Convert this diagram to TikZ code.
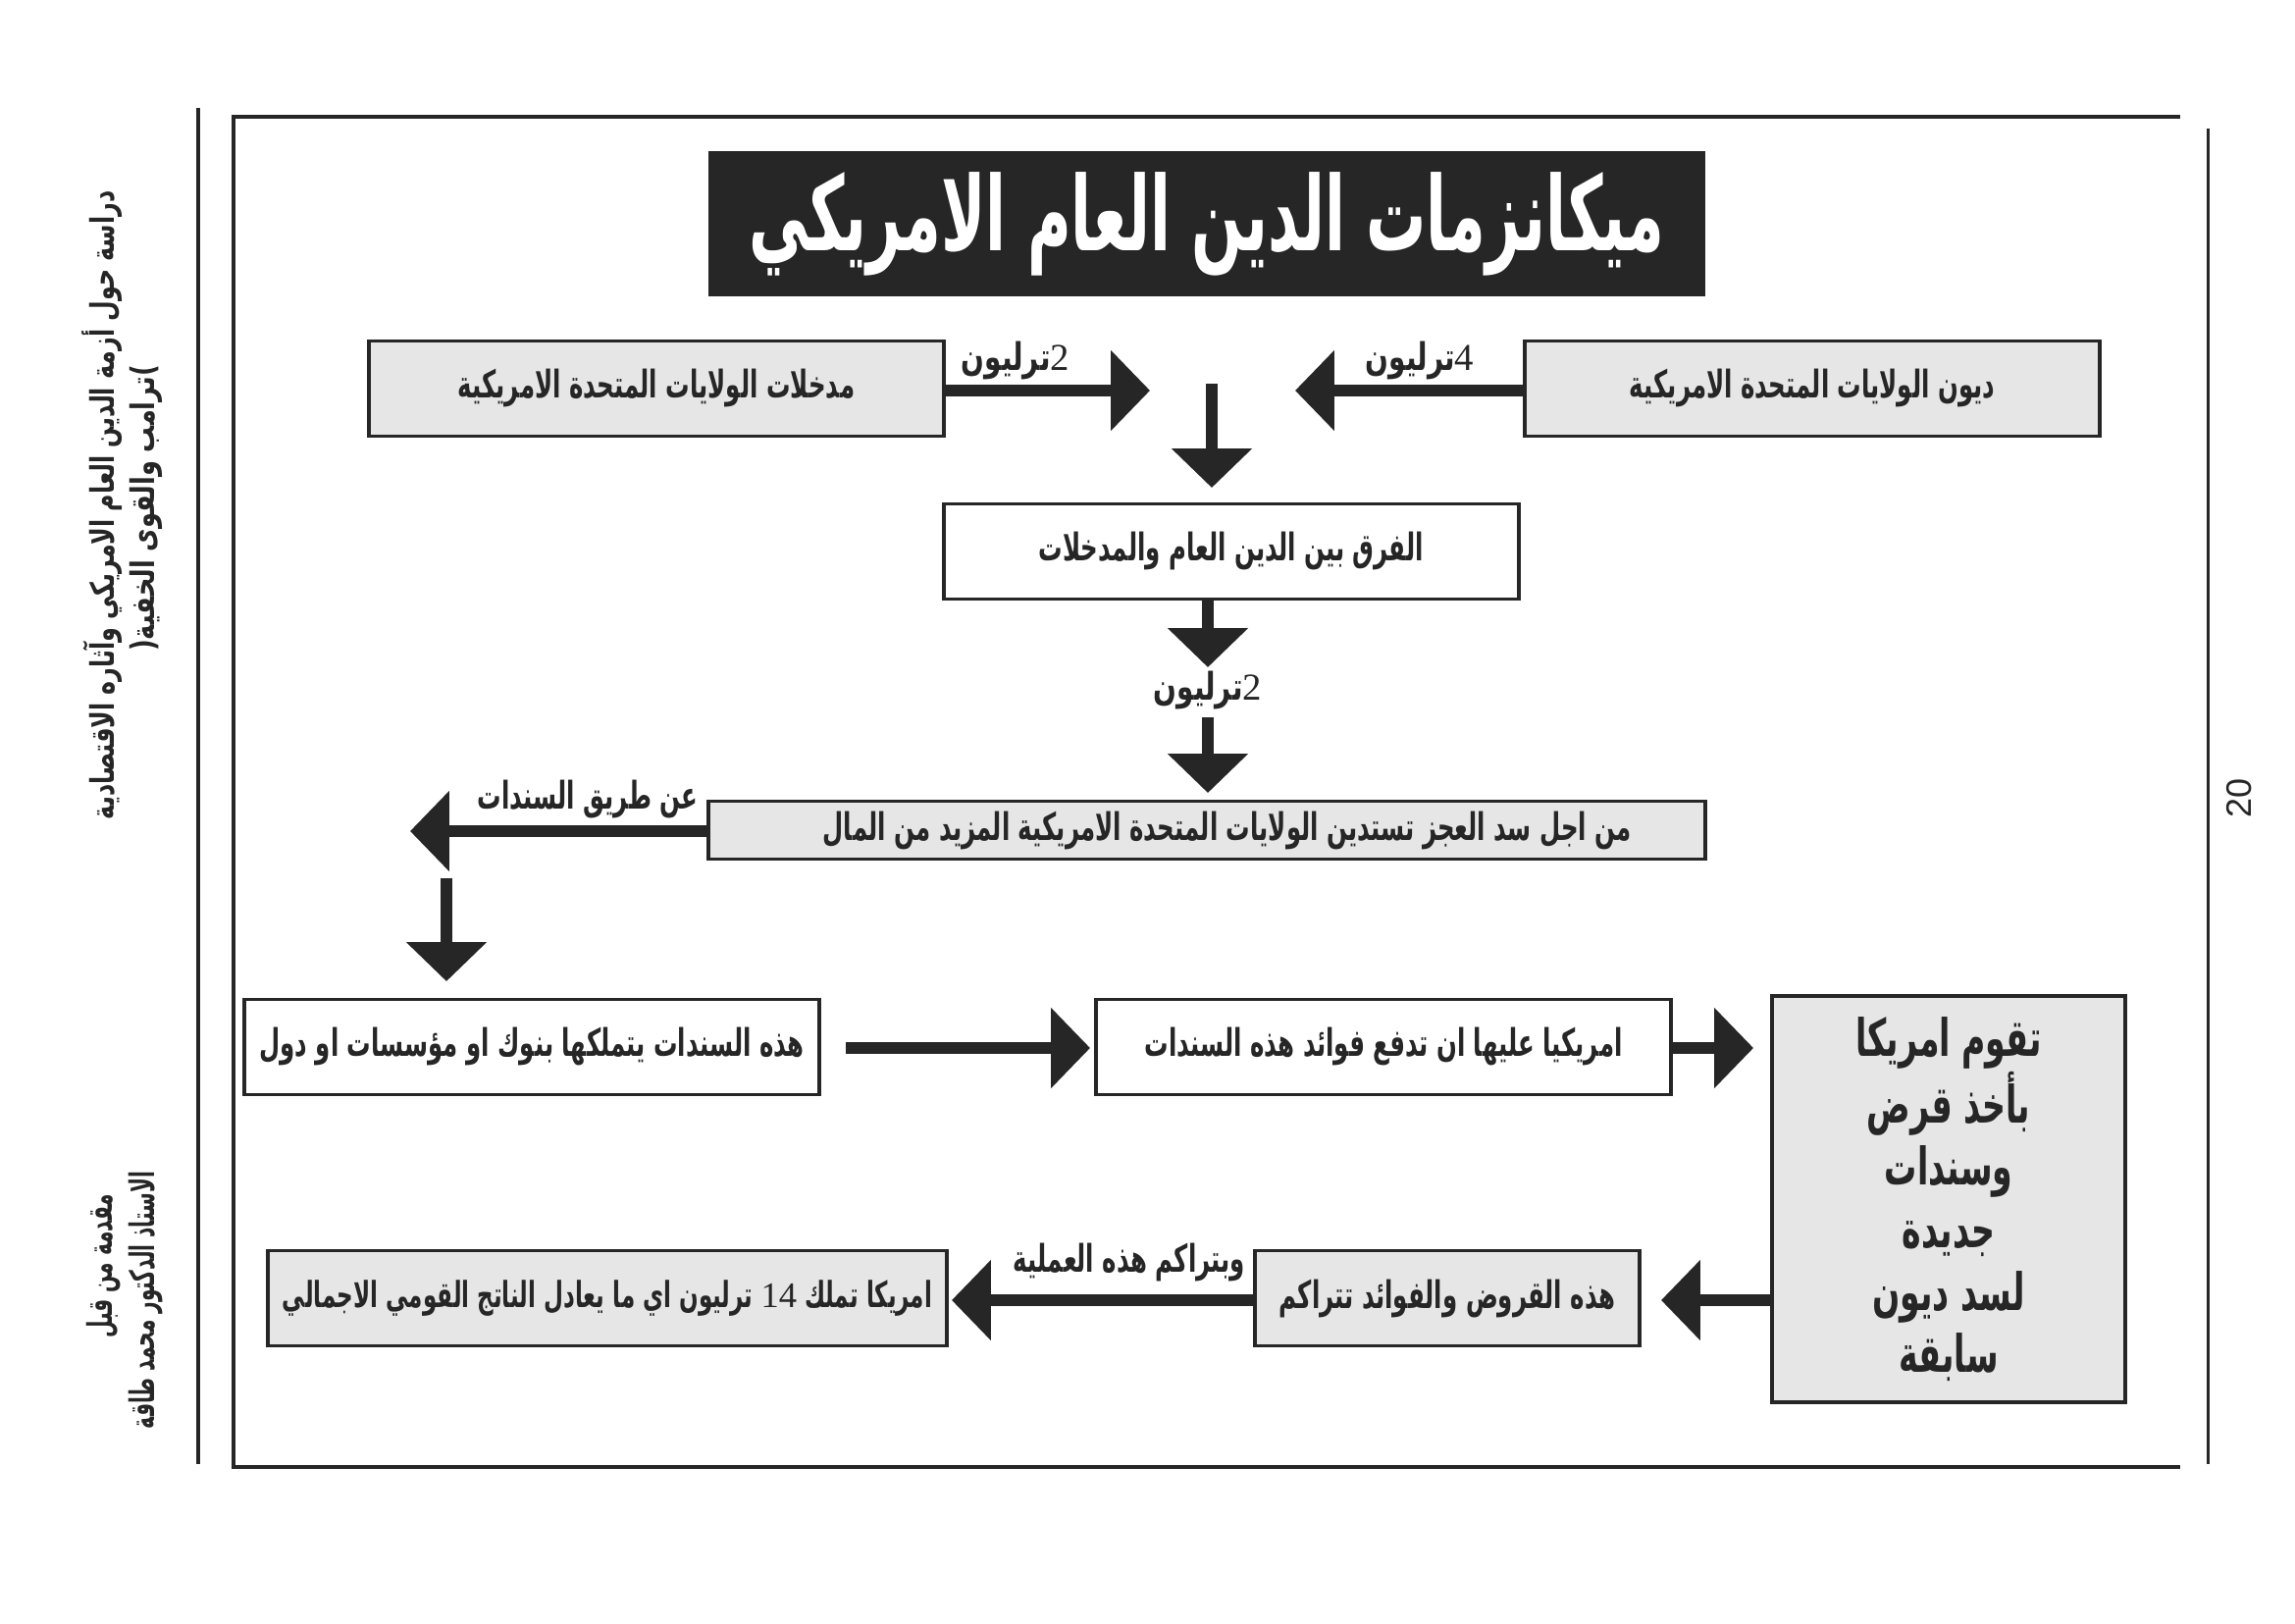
\documentclass[tikz,border=0pt]{standalone}
\usepackage{fontspec}
\usetikzlibrary{arrows.meta}
\TeXXeTstate=1
\newfontfamily\arb[Script=Arabic,FakeStretch=0.63]{DejaVu Sans}
\newfontfamily\arbw[Script=Arabic,FakeStretch=0.72]{DejaVu Sans}
\newfontfamily\arbt[Script=Arabic,FakeStretch=0.58]{DejaVu Sans}
\newfontfamily\arbside[Script=Arabic,FakeStretch=0.77]{DejaVu Sans}
\newfontfamily\arbsidea[Script=Arabic,FakeStretch=0.715]{DejaVu Sans}
\newfontfamily\arbsb[Script=Arabic,FakeStretch=0.58]{DejaVu Sans}
\newfontfamily\numfont{Liberation Serif}
\newfontfamily\pagefont{Liberation Sans}
\newcommand\AR[1]{\beginR#1\endR}
\definecolor{dk}{RGB}{38,38,38}
\definecolor{gbg}{RGB}{230,230,230}
\tikzset{
 boxbase/.style={draw=dk, line width=1.4pt, inner sep=0pt, align=center, text=dk, font=\arb\bfseries\fontsize{14}{17}\selectfont},
 graybox/.style={boxbase, fill=gbg},
 whitebox/.style={boxbase, fill=white},
 bigarrow/.style={draw=dk, line width=4.3pt, -{Triangle[length=14.4pt,width=28.8pt]}},
 lbl/.style={inner sep=0pt, text=dk, font=\arb\bfseries\fontsize{14}{17}\selectfont},
 numlbl/.style={inner sep=0pt, text=dk, font=\arbw\bfseries\fontsize{14}{17}\selectfont},
 frameline/.style={draw=dk, line width=1.1pt},
 side/.style={inner sep=0pt, text=dk, rotate=90, font=\arbside\bfseries\fontsize{12}{14}\selectfont},
 sideb/.style={inner sep=0pt, text=dk, rotate=90, font=\arbsb\bfseries\fontsize{12.5}{14}\selectfont},
}
\begin{document}
\begin{tikzpicture}[x=0.0127cm,y=-0.0127cm]
\useasboundingbox[fill=white] (0,0) rectangle (2339,1654);
% page frame
\draw[frameline, line width=1.3pt] (202,110) -- (202,1492);
\draw[frameline] (2222,119) -- (238,119) -- (238,1495) -- (2222,1495);
\draw[frameline] (2250,131) -- (2250,1492);
% side texts
\node[side, font=\arbsidea\bfseries\fontsize{12}{14}\selectfont] (side1) at (104,515) {\AR{دراسة حول أزمة الدين العام الامريكي وآثاره الاقتصادية}};
\node[side] (side2) at (149,518) {(\AR{ترامب والقوى الخفية})};
\node[sideb] (side3) at (106,1290) {\AR{مقدمة من قبل}};
\node[sideb] (side4) at (149,1325) {\AR{الاستاذ الدكتور محمد طاقة}};
\node[inner sep=0pt, rotate=90, text=dk, font=\pagefont\fontsize{13}{15}\selectfont] (pg) at (2282,813) {20};
% title
\node[fill=dk, draw=dk, minimum width=12.89cm, minimum height=1.867cm, inner sep=0pt, text=white, font=\arbt\bfseries\fontsize{38}{44}\selectfont] (title) at (1230,228) {\AR{ميكانزمات الدين العام الامريكي}};
% row 1
\node[graybox, minimum width=7.442cm, minimum height=1.232cm] (inc) at (669,396) {\AR{مدخلات الولايات المتحدة الامريكية}};
\node[graybox, minimum width=7.442cm, minimum height=1.232cm] (debt) at (1847,396) {\AR{ديون الولايات المتحدة الامريكية}};
\coordinate (aL) at (1172,398);
\coordinate (aR) at (1320,398);
\draw[bigarrow] (inc.east |- aL) -- (aL);
\draw[bigarrow] (debt.west |- aR) -- (aR);
\node[numlbl] (l2a) at (1035,368) {\AR{{\numfont\mdseries 2}ترليون}};
\node[numlbl] (l4) at (1447,368) {\AR{{\numfont\mdseries 4}ترليون}};
% difference
\coordinate (d1s) at (1235,391);
\coordinate (d1e) at (1235,497);
\draw[bigarrow] (d1s) -- (d1e);
\node[whitebox, minimum width=7.442cm, minimum height=1.232cm] (diff) at (1255,562) {\AR{الفرق بين الدين العام والمدخلات}};
\coordinate (d2e) at (1231,680);
\draw[bigarrow] (diff.south -| d2e) -- (d2e);
\node[numlbl] (l2b) at (1231,704) {\AR{{\numfont\mdseries 2}ترليون}};
\coordinate (d3s) at (1231,731);
\coordinate (d3e) at (1231,808);
\draw[bigarrow] (d3s) -- (d3e);
% borrowing
\node[graybox, minimum width=12.89cm, minimum height=0.749cm] (need) at (1230,846) {\hspace*{15pt}\AR{من اجل سد العجز تستدين الولايات المتحدة الامريكية المزيد من المال}};
\coordinate (bt) at (418,847);
\draw[bigarrow] (need.west |- bt) -- (bt);
\node[lbl] (lbond) at (599,815) {\AR{عن طريق السندات}};
\coordinate (d4s) at (455,895);
\coordinate (d4e) at (455,1000);
\draw[bigarrow] (d4s) -- (d4e);
% row 4
\node[whitebox, minimum width=7.442cm, minimum height=1.232cm] (hold) at (542,1067) {\AR{هذه السندات يتملكها بنوك او مؤسسات او دول}};
\node[whitebox, minimum width=7.442cm, minimum height=1.232cm] (pay) at (1410,1067) {\AR{امريكيا عليها ان تدفع فوائد هذه السندات}};
\coordinate (a8s) at (862,1068);
\coordinate (a8e) at (1111,1068);
\draw[bigarrow] (a8s) -- (a8e);
\node[graybox, minimum width=4.572cm, minimum height=5.245cm, font=\arb\bfseries\fontsize{19}{23}\selectfont] (big) at (1986,1222) {\AR{تقوم امريكا}\\\AR{بأخذ قرض}\\\AR{وسندات}\\\AR{جديدة}\\\AR{لسد ديون}\\\AR{سابقة}};
\coordinate (a9e) at (1787,1068);
\draw[bigarrow] (pay.east |- a9e) -- (a9e);
% row 5
\node[graybox, minimum width=4.966cm, minimum height=1.232cm] (acc) at (1475,1323) {\AR{هذه القروض والفوائد تتراكم}};
\coordinate (a10e) at (1693,1325);
\draw[bigarrow] (big.west |- a10e) -- (a10e);
\node[graybox, minimum width=8.788cm, minimum height=1.232cm, font=\arb\bfseries\fontsize{13.2}{16}\selectfont] (own) at (619,1323) {\AR{امريكا تملك \beginL{\numfont\mdseries 14}\endL{} ترليون اي ما يعادل الناتج القومي الاجمالي}};
\coordinate (a11e) at (970,1325);
\draw[bigarrow] (acc.west |- a11e) -- (a11e);
\node[lbl] (lproc) at (1151,1286) {\AR{وبتراكم هذه العملية}};
\end{tikzpicture}
\end{document}
